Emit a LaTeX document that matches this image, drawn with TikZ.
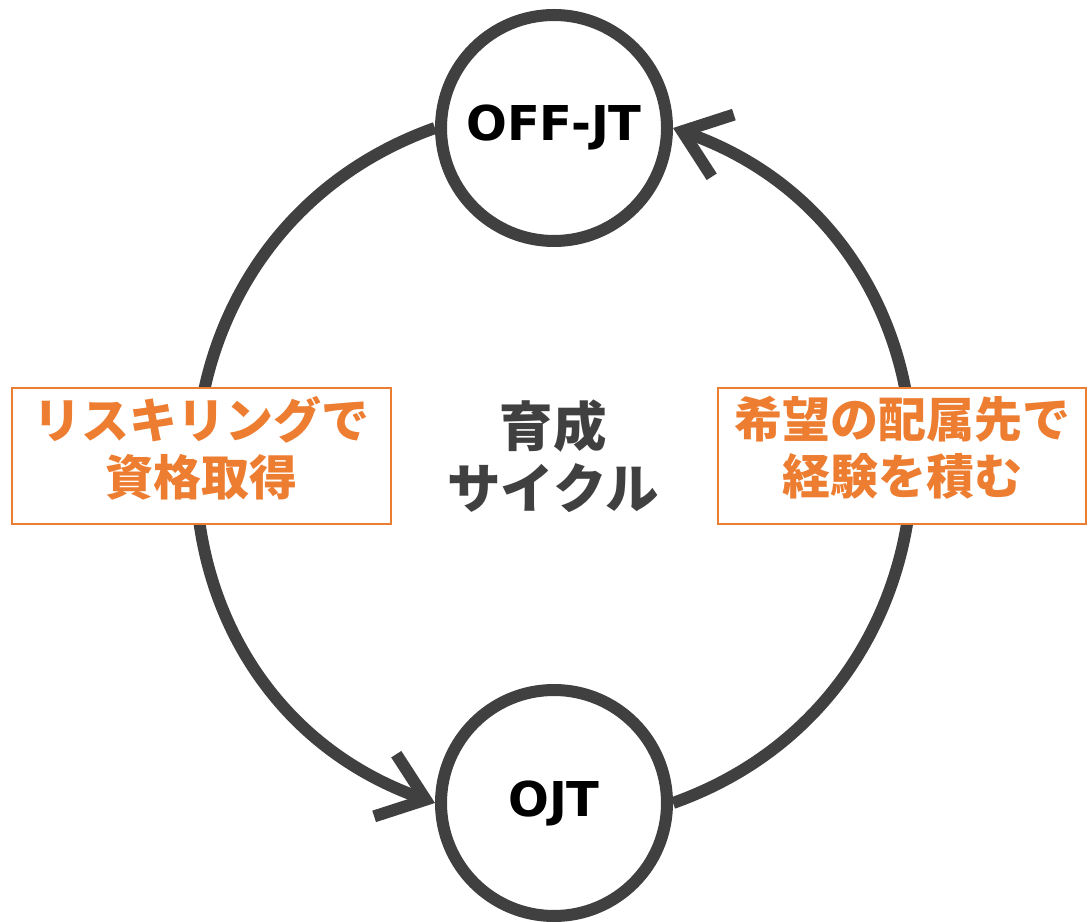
\documentclass[tikz,border=0pt]{standalone}
\usepackage{fontspec}
\newfontfamily\jp{Noto Sans CJK JP}
\newfontfamily\lat{DejaVu Sans}
\usetikzlibrary{arrows.meta}
\definecolor{dg}{HTML}{404040}
\definecolor{og}{HTML}{ED7D31}
\begin{document}
\begin{tikzpicture}[x=1pt,y=1pt,
  stage/.style={circle, draw=dg, line width=12pt, fill=white, minimum size=226pt,
    inner sep=0pt, font=\lat\bfseries\fontsize{48}{58}\selectfont, text=black},
  cyc/.style={draw=dg, line width=12pt},
  tipx/.style={-{Straight Barb[length=43pt, width=66pt, sharp]}},
  note/.style={draw=og, line width=2pt, fill=white, text=og,
    font=\jp\bfseries\fontsize{48}{57}\selectfont, align=center,
    text depth=21pt, inner sep=0pt, minimum height=136pt},
  hub/.style={text=dg, font=\jp\bfseries\fontsize{53.5}{62}\selectfont, align=center}
  ]
\useasboundingbox (0,0) rectangle (1089,921);
\node[stage] (off) at (554,793) {OFF-JT};
\node[stage] (ojt) at (554,118) {OJT};
\draw[cyc, tipx] (off.west) to[out=199.57, in=160.43, looseness=1.276] (ojt.west);
\draw[cyc, tipx] (ojt.east) to[out=19.57, in=-19.57, looseness=1.276] (off.east);
\node[note, minimum width=379pt] (reskill) at (201.5,465) {リスキリングで\\資格取得};
\node[note, minimum width=368pt] (haizoku) at (902,465) {希望の配属先で\\経験を積む};
\node[hub] (cycle) at (553,465) {育成\\サイクル};
\end{tikzpicture}
\end{document}
